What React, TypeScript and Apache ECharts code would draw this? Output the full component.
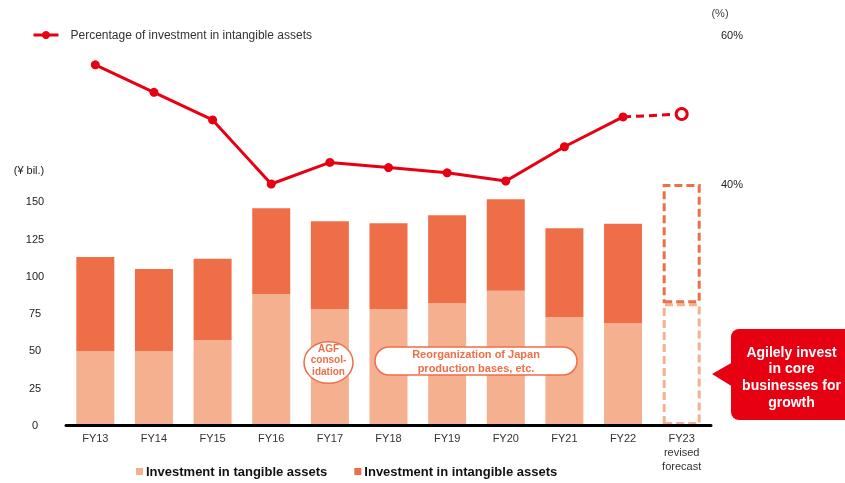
import React, { useEffect, useRef } from "react";
import * as echarts from "echarts";

const categories = ["FY13", "FY14", "FY15", "FY16", "FY17", "FY18", "FY19", "FY20", "FY21", "FY22", "FY23\nrevised\nforecast"];
const tangible = [49.7, 49.7, 57.0, 87.9, 77.9, 77.9, 81.9, 90.1, 72.5, 68.3, 81.7];
const intangible = [63.1, 55.0, 54.6, 57.5, 58.8, 57.5, 58.8, 61.4, 59.5, 66.8, 80.0];
const pctActual = [56.0, 52.3, 48.6, 40.0, 42.9, 42.2, 41.5, 40.4, 45.0, 49.0];
const pctForecast = 49.4;
const leftTicks = [0, 25, 50, 75, 100, 125, 150];
const rightTicks = [40, 60];

const LINE_NAME = "Percentage of investment in intangible assets";
const TAN_NAME = "Investment in tangible assets";
const INT_NAME = "Investment in intangible assets";

const RED = "#E60012";
const DARK = "#EE6E48";
const LIGHT = "#F4B08F";
const FONT = "'Liberation Sans', Arial, sans-serif";

export default function App() {
  const ref = useRef<HTMLDivElement>(null);
  useEffect(() => {
    if (!ref.current) return;
    const chart = echarts.init(ref.current, null, { renderer: "svg" });
    const n = categories.length;
    const last = n - 1;

    const tanData = tangible.map((v, i) =>
      i === last
        ? { value: v, itemStyle: { color: "rgba(255,255,255,0)", borderColor: LIGHT, borderWidth: 3, borderType: [8, 4] } }
        : v
    );
    const intData = intangible.map((v, i) =>
      i === last
        ? { value: v, itemStyle: { color: "rgba(255,255,255,0)", borderColor: DARK, borderWidth: 3, borderType: [8, 4] } }
        : v
    );
    const solid: any[] = [...pctActual, "-"];
    const dashed: any[] = categories.map(() => "-");
    dashed[last - 1] = { value: pctActual[pctActual.length - 1], symbol: "none" };
    dashed[last] = {
      value: pctForecast,
      symbol: "circle",
      symbolSize: 11,
      itemStyle: { color: "#fff", borderColor: RED, borderWidth: 3 },
    };

    chart.setOption({
      animation: false,
      textStyle: { fontFamily: FONT },
      grid: { left: 66, right: 134, top: 35, bottom: 58, containLabel: false },
      legend: [
        {
          data: [LINE_NAME],
          left: 27,
          top: 24,
          itemWidth: 25,
          itemHeight: 10,
          lineStyle: { width: 3 },
          textStyle: { fontSize: 12, color: "#333", fontFamily: FONT, padding: [0, 0, 0, 7] },
        },
        {
          data: [TAN_NAME, INT_NAME],
          left: 131,
          top: 460,
          icon: "rect",
          itemWidth: 7,
          itemHeight: 7,
          itemGap: 27,
          textStyle: { fontSize: 13, fontWeight: "bold", color: "#111", fontFamily: FONT, padding: [0, 0, 0, -2] },
        },
      ],
      xAxis: {
        type: "category",
        data: categories,
        z: 10,
        axisLine: { lineStyle: { color: "#000", width: 3 } },
        axisTick: { show: false },
        axisLabel: { interval: 0, fontSize: 11, color: "#333", margin: 6, lineHeight: 14, fontFamily: FONT },
      },
      yAxis: [
        {
          type: "value",
          min: 0,
          max: 261.7,
          interval: 25,
          splitLine: { show: false },
          axisLine: { show: false },
          axisTick: { show: false },
          axisLabel: {
            customValues: leftTicks,
            formatter: (v: number) => (v <= 150 ? String(v) : ""),
            align: "center",
            margin: 31,
            fontSize: 11,
            color: "#222",
            fontFamily: FONT,
          },
        },
        {
          type: "value",
          position: "right",
          min: 7.65,
          max: 60,
          splitLine: { show: false },
          axisLine: { show: false },
          axisTick: { show: false },
          axisLabel: {
            customValues: rightTicks,
            formatter: "{value}%",
            align: "left",
            margin: 10,
            fontSize: 11,
            color: "#222",
            fontFamily: FONT,
          },
        },
      ],
      series: [
        {
          name: TAN_NAME,
          type: "bar",
          stack: "inv",
          barWidth: 38,
          itemStyle: { color: LIGHT },
          data: tanData,
          z: 2,
        },
        {
          name: INT_NAME,
          type: "bar",
          stack: "inv",
          barWidth: 38,
          itemStyle: { color: DARK },
          data: intData,
          z: 3,
        },
        {
          name: "forecast",
          type: "line",
          yAxisIndex: 1,
          data: dashed,
          symbol: "none",
          lineStyle: { color: RED, width: 3, type: [8, 5] },
          itemStyle: { color: RED },
          z: 4,
        },
        {
          name: LINE_NAME,
          type: "line",
          yAxisIndex: 1,
          data: solid,
          symbol: "circle",
          symbolSize: 9,
          lineStyle: { color: RED, width: 3 },
          itemStyle: { color: RED },
          z: 5,
        },
      ],
      graphic: [
        { type: "text", x: 29, y: 170, style: { text: "(¥ bil.)", align: "center", verticalAlign: "middle", fontSize: 11, fontFamily: FONT, fill: "#222" } },
        { type: "text", x: 720, y: 13, style: { text: "(%)", align: "center", verticalAlign: "middle", fontSize: 11, fontFamily: FONT, fill: "#444" } },
        { type: "ellipse", z: 20, shape: { cx: 328.5, cy: 362.5, rx: 24.5, ry: 20.8 }, style: { fill: "#fff", stroke: DARK, lineWidth: 1.5 } },
        {
          type: "text", z: 21, x: 328.5, y: 359.7,
          style: { text: "AGF\nconsol-\nidation", align: "center", verticalAlign: "middle", fontSize: 10, fontWeight: "bold", lineHeight: 11.5, fontFamily: FONT, fill: DARK },
        },
        { type: "rect", z: 20, shape: { x: 375, y: 347, width: 202, height: 28, r: 14 }, style: { fill: "#fff", stroke: DARK, lineWidth: 1.5 } },
        {
          type: "text", z: 21, x: 476, y: 361.3,
          style: { text: "Reorganization of Japan\nproduction bases, etc.", align: "center", verticalAlign: "middle", fontSize: 11, fontWeight: "bold", lineHeight: 14, fontFamily: FONT, fill: DARK },
        },
        { type: "polygon", z: 20, shape: { points: [[712, 374], [733, 362], [733, 387]] }, style: { fill: RED } },
        { type: "rect", z: 20, shape: { x: 731, y: 329, width: 125, height: 91, r: 8 }, style: { fill: RED } },
        {
          type: "text", z: 21, x: 791.5, y: 376.7,
          style: { text: "Agilely invest\nin core\nbusinesses for\ngrowth", align: "center", verticalAlign: "middle", fontSize: 14, fontWeight: "bold", lineHeight: 16.7, fontFamily: FONT, fill: "#fff" },
        },
      ],
    });
    return () => chart.dispose();
  }, []);
  return <div ref={ref} style={{ position: "fixed", left: 0, top: 0, width: 845, height: 483 }} />;
}
